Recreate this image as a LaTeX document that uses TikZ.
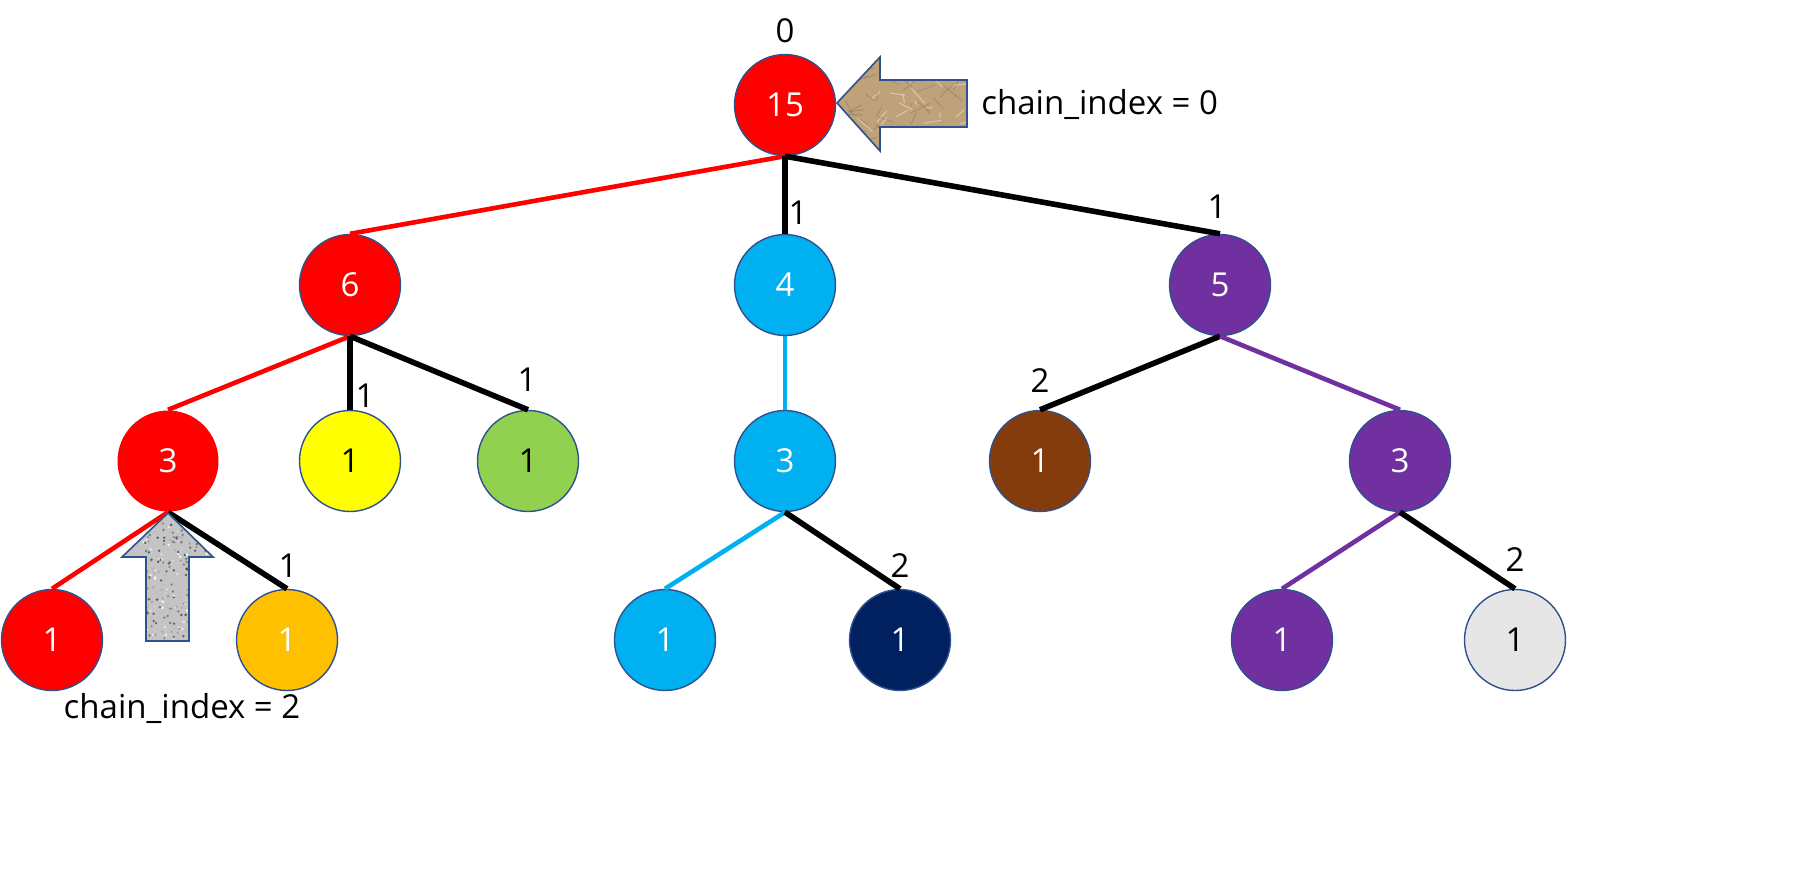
\documentclass[tikz,border=0pt]{standalone}
\usepackage{fontspec}
\setmainfont{Open Sans}
\definecolor{cred}{HTML}{FF0000}
\definecolor{cblue}{HTML}{00B0F0}
\definecolor{cpurple}{HTML}{7030A0}
\definecolor{cyellow}{HTML}{FFFF00}
\definecolor{cgreen}{HTML}{92D050}
\definecolor{cbrown}{HTML}{843C0C}
\definecolor{corange}{HTML}{FFC000}
\definecolor{cnavy}{HTML}{002060}
\definecolor{cgrey}{HTML}{E7E6E6}
\definecolor{cborder}{HTML}{2F528F}
\definecolor{cpaper}{HTML}{BFA27A}
\definecolor{cpaperdark}{HTML}{7A5F3C}
\definecolor{cstone}{HTML}{C4C4C4}
\begin{document}
\begin{tikzpicture}[x=0.5pt,y=-0.5pt,
  tn/.style={circle, draw=cborder, line width=0.7pt, minimum size=50.5pt, inner sep=0pt, font=\fontsize{16.5}{19}\selectfont},
  wt/.style={text=white},
  bk/.style={text=black},
  lbl/.style={inner sep=0pt, font=\fontsize{16.5}{19}\selectfont},
  blk/.style={draw=black, line width=2.8pt},
  ce/.style={draw=#1, line width=2.3pt},
  arrowshape/.style={draw=cborder, line width=0.8pt, line join=miter}
]
\useasboundingbox (0,0) rectangle (1804,868);

% nodes
\node[tn, fill=cred, wt] (n15) at (785,105) {15};
\node[tn, fill=cred, wt] (n6) at (350,285) {6};
\node[tn, fill=cblue, wt] (n4) at (785,285) {4};
\node[tn, fill=cpurple, wt] (n5) at (1220,285) {5};
\node[tn, fill=cred, draw=none, wt] (r3) at (168,461) {3};
\node[tn, fill=cyellow, bk] (y1) at (350,461) {1};
\node[tn, fill=cgreen, bk] (g1) at (528,461) {1};
\node[tn, fill=cblue, wt] (b3) at (785,461) {3};
\node[tn, fill=cbrown, wt] (br1) at (1040,461) {1};
\node[tn, fill=cpurple, wt] (p3) at (1400,461) {3};
\node[tn, fill=cred, wt] (r1) at (52,640) {1};
\node[tn, fill=corange, wt] (o1) at (287,640) {1};
\node[tn, fill=cblue, wt] (b1) at (665,640) {1};
\node[tn, fill=cnavy, wt] (nv1) at (900,640) {1};
\node[tn, fill=cpurple, wt] (p1) at (1282,640) {1};
\node[tn, fill=cgrey, bk] (gr1) at (1515,640) {1};

% edges
\path[ce=cred] (n15.south) -- (n6.north);
\path[blk] (n15.south) -- (n4.north);
\path[blk] (n15.south) -- (n5.north);
\path[ce=cred] (n6.south) -- (r3.north);
\path[blk] (n6.south) -- (y1.north);
\path[blk] (n6.south) -- (g1.north);
\path[ce=cblue] (n4.south) -- (b3.north);
\path[blk] (n5.south) -- (br1.north);
\path[ce=cpurple] (n5.south) -- (p3.north);
\path[ce=cred] (r3.south) -- (r1.north);
\path[blk] (r3.south) -- (o1.north);
\path[ce=cblue] (b3.south) -- (b1.north);
\path[blk] (b3.south) -- (nv1.north);
\path[ce=cpurple] (p3.south) -- (p1.north);
\path[blk] (p3.south) -- (gr1.north);

% edge labels
\node[lbl] (l0) at (785,31) {0};
\node[lbl] (l4) at (798,213) {1};
\node[lbl] (l5) at (1217,207) {1};
\node[lbl] (ly) at (365,396) {1};
\node[lbl] (lg) at (527,380) {1};
\node[lbl] (lbr) at (1040,381) {2};
\node[lbl] (lo) at (288,566) {1};
\node[lbl] (lnv) at (900,566) {2};
\node[lbl] (lgr) at (1515,560) {2};

% arrow pointing at the root (crumpled paper look)
\begin{scope}
  \clip (837,103) -- (880,57) -- (880,80) -- (967,80) -- (967,127) -- (880,127) -- (880,151) -- cycle;
  \fill[cpaper] (830,50) rectangle (975,160);
  \pgfmathsetseed{11}
  \foreach \i in {1,...,70}{
    \pgfmathsetmacro{\xa}{835+rnd*135}
    \pgfmathsetmacro{\ya}{55+rnd*100}
    \pgfmathsetmacro{\dx}{(rnd-0.5)*40}
    \pgfmathsetmacro{\dy}{(rnd-0.5)*30}
    \draw[cpaperdark!80, line width=0.5pt, opacity=0.6] (\xa,\ya) -- ++(\dx,\dy);
  }
  \foreach \i in {1,...,40}{
    \pgfmathsetmacro{\xa}{835+rnd*135}
    \pgfmathsetmacro{\ya}{55+rnd*100}
    \pgfmathsetmacro{\dx}{(rnd-0.5)*40}
    \pgfmathsetmacro{\dy}{(rnd-0.5)*30}
    \draw[white, line width=0.6pt, opacity=0.35] (\xa,\ya) -- ++(\dx,\dy);
  }
\end{scope}
\path[arrowshape] (837,103) -- (880,57) -- (880,80) -- (967,80) -- (967,127) -- (880,127) -- (880,151) -- cycle;

% arrow under the red 3 (granite look)
\begin{scope}
  \clip (168,513) -- (213,557) -- (189,557) -- (189,641) -- (146,641) -- (146,557) -- (122,557) -- cycle;
  \fill[cstone] (115,505) rectangle (220,650);
  \pgfmathsetseed{5}
  \foreach \i in {1,...,450}{
    \pgfmathsetmacro{\xa}{118+rnd*100}
    \pgfmathsetmacro{\ya}{508+rnd*138}
    \pgfmathsetmacro{\gg}{rnd*70}
    \fill[black!\gg] (\xa,\ya) circle[radius=1.3];
  }
\end{scope}
\path[arrowshape] (168,513) -- (213,557) -- (189,557) -- (189,641) -- (146,641) -- (146,557) -- (122,557) -- cycle;

% texts
\node[lbl, anchor=west] (t0) at (981,104) {chain\_index = 0};
\node[lbl] (t2) at (182,708) {chain\_index = 2};
\end{tikzpicture}
\end{document}
